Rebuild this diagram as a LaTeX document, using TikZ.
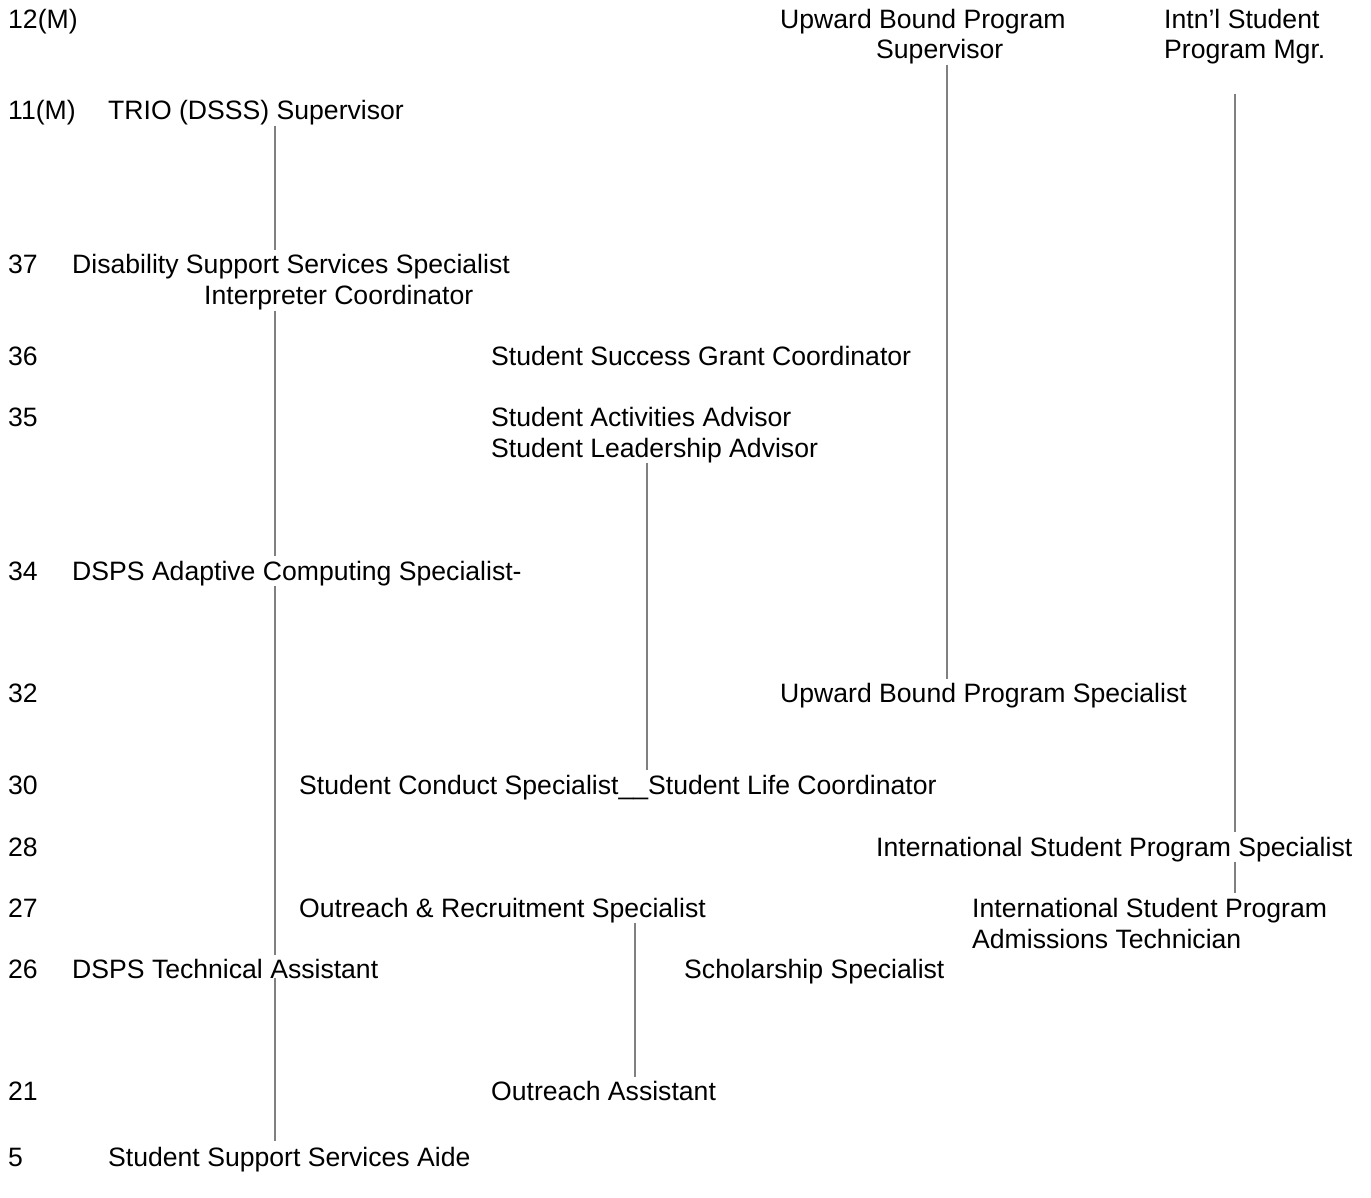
\documentclass[tikz,border=0pt]{standalone}
\usepackage{fontspec}
\setmainfont{Liberation Sans}
\begin{document}
\begin{tikzpicture}[x=1pt,y=-1pt,
  lbl/.style={anchor=base west,inner sep=0pt,font=\fontsize{26.6}{30}\selectfont},
  conn/.style={draw={rgb,255:red,128;green,128;blue,128},line width=1.3pt}]
\useasboundingbox (0,0) rectangle (1371,1198);
% grade numbers
\node[lbl] (g12) at (8,29) {12(M)};
\node[lbl] (g11) at (8,120) {11(M)};
\node[lbl] (g37) at (8,274) {37};
\node[lbl] (g36) at (8,365) {36};
\node[lbl] (g35) at (8,426) {35};
\node[lbl] (g34) at (8,580) {34};
\node[lbl] (g32) at (8,702) {32};
\node[lbl] (g30) at (8,794) {30};
\node[lbl] (g28) at (8,856) {28};
\node[lbl] (g27) at (8,917) {27};
\node[lbl] (g26) at (8,978) {26};
\node[lbl] (g21) at (8,1100) {21};
\node[lbl] (g5) at (8,1166) {5};
% positions
\node[lbl] (upsup1) at (780,29) {Upward Bound Program};
\node[lbl] (upsup2) at (876,59) {Supervisor};
\node[lbl] (mgr1) at (1164,29) {Intn’l Student};
\node[lbl] (mgr2) at (1164,59) {Program Mgr.};
\node[lbl] (trio) at (108,120) {TRIO (DSSS) Supervisor};
\node[lbl] (disab) at (72,274) {Disability Support Services Specialist};
\node[lbl] (interp) at (204,305) {Interpreter Coordinator};
\node[lbl] (grant) at (491,365) {Student Success Grant Coordinator};
\node[lbl] (activ) at (491,426) {Student Activities Advisor};
\node[lbl] (leader) at (491,457) {Student Leadership Advisor};
\node[lbl] (adapt) at (72,580) {DSPS Adaptive Computing Specialist-};
\node[lbl] (upspec) at (780,702) {Upward Bound Program Specialist};
\node[lbl] (conduct) at (299,794) {Student Conduct Specialist\_\_Student Life Coordinator};
\node[lbl] (isps) at (876,856) {International Student Program Specialist};
\node[lbl] (outreach) at (299,917) {Outreach \& Recruitment Specialist};
\node[lbl] (isp1) at (972,917) {International Student Program};
\node[lbl] (isp2) at (972,948) {Admissions Technician};
\node[lbl] (tech) at (72,978) {DSPS Technical Assistant};
\node[lbl] (schol) at (684,978) {Scholarship Specialist};
\node[lbl] (oassist) at (491,1100) {Outreach Assistant};
\node[lbl] (aide) at (108,1166) {Student Support Services Aide};
% x positions of the connectors
\coordinate (xa) at (275,0);
\coordinate (xb) at (947,0);
\coordinate (xc) at (1235,0);
\coordinate (xd) at (647,0);
\coordinate (xe) at (635,0);
% connectors
\draw[conn,shorten >=5pt] (trio.south -| xa) -- (disab.north -| xa);
\draw[conn,shorten >=5pt] (interp.south -| xa) -- (adapt.north -| xa);
\draw[conn,shorten >=4pt] (adapt.south -| xa) -- (tech.north -| xa);
\draw[conn,shorten >=6pt] (tech.south -| xa) -- (aide.north -| xa);
\draw[conn,shorten >=4pt] (upsup2.south -| xb) -- (upspec.north -| xb);
\draw[conn,shorten <=29pt,shorten >=5pt] (mgr2.south -| xc) -- (isps.north -| xc);
\draw[conn,shorten >=5pt] (isps.south -| xc) -- (isp1.north -| xc);
\draw[conn,shorten >=5pt] (leader.south -| xd) -- (conduct.north -| xd);
\draw[conn,shorten >=4pt] (outreach.south -| xe) -- (oassist.north -| xe);
\end{tikzpicture}
\end{document}
